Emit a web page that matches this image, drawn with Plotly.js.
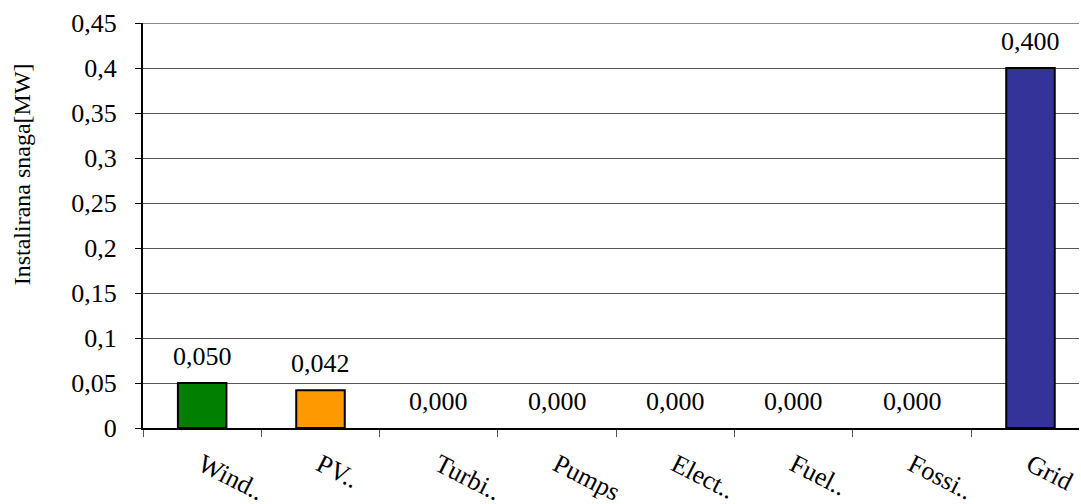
<!DOCTYPE html>
<html>
<head>
<meta charset="utf-8">
<script src="https://cdn.plot.ly/plotly-3.0.1.min.js"></script>
<style>html,body{margin:0;padding:0;background:#fff;}</style>
</head>
<body>
<div id="chart" style="width:1081px;height:504px;"></div>
<script>
const categories = ["Wind..", "PV..", "Turbi..", "Pumps", "Elect..", "Fuel..", "Fossi..", "Grid"];
const values = [0.050, 0.042, 0.000, 0.000, 0.000, 0.000, 0.000, 0.400];
const barColors = ["#007F00", "#FF9900", "#333399", "#333399", "#333399", "#333399", "#333399", "#333399"];
const yTitle = "Instalirana snaga[MW]";

const font = "'Liberation Serif', 'Times New Roman', serif";

const trace = {
  type: "bar",
  x: categories,
  y: values,
  width: 0.41,
  marker: { color: barColors, line: { color: "#000", width: values.map(v => v > 0 ? 2 : 0) } },
  hoverinfo: "none"
};

const annotations = categories.map((c, i) => ({
  x: c, y: values[i], xref: "x", yref: "y",
  text: values[i].toFixed(3).replace(".", ","),
  showarrow: false, yanchor: "bottom", yshift: 10,
  font: { family: font, size: 26, color: "#000" }
}));
annotations.push({
  xref: "paper", yref: "paper", x: -0.129, y: 0.627,
  xanchor: "center", yanchor: "middle", textangle: -90,
  text: yTitle, showarrow: false,
  font: { family: font, size: 24, color: "#000" }
});

const layout = {
  width: 1081, height: 504,
  margin: { l: 143, r: 2, t: 23, b: 76 },
  paper_bgcolor: "#fff", plot_bgcolor: "#fff",
  separators: ", ",
  showlegend: false,
  font: { family: font, size: 26, color: "#000" },
  xaxis: {
    type: "category",
    range: [-0.5, 7.41],
    tickson: "boundaries",
    ticks: "outside", ticklen: 7, tickcolor: "#555", tickwidth: 1,
    showgrid: false,
    showline: true, linecolor: "#000", linewidth: 1.5,
    tickangle: 27,
    ticklabelstandoff: 10,
    tickfont: { family: font, size: 26, color: "#000" },
    fixedrange: true
  },
  yaxis: {
    range: [0, 0.45],
    dtick: 0.05, tick0: 0,
    ticks: "outside", ticklen: 6, tickcolor: "#000", tickwidth: 1,
    ticklabelstandoff: 13,
    showgrid: true, gridcolor: "#555", gridwidth: 1,
    showline: true, linecolor: "#000", linewidth: 2,
    zeroline: false,
    tickfont: { family: font, size: 26, color: "#000" },
    fixedrange: true
  },
  shapes: [{
    type: "line", xref: "paper", yref: "y", x0: 0, x1: 1, y0: 0.45, y1: 0.45,
    line: { color: "#8a8a8a", width: 2 }
  }],
  annotations: annotations
};

Plotly.newPlot("chart", [trace], layout, { displayModeBar: false, staticPlot: true });
</script>
</body>
</html>
